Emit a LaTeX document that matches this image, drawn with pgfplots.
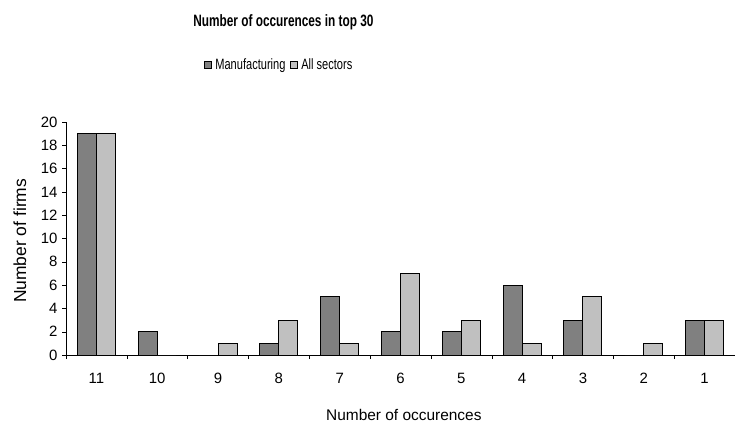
\documentclass[border=0pt]{standalone}
\usepackage{fontspec}
\setmainfont{Liberation Sans}
\newfontfamily\narrowfont[FakeStretch=0.74]{Liberation Sans}
\newfontfamily\titlefont[FakeStretch=0.72]{Liberation Sans Bold}
\usepackage{pgfplots}
\pgfplotsset{compat=1.18}
\definecolor{darkbar}{HTML}{808080}
\definecolor{lightbar}{HTML}{C0C0C0}
\begin{document}
\begin{tikzpicture}[x=1bp,y=1bp]
\path[use as bounding box] (0,0) rectangle (735,427);
\begin{axis}[
  at={(66bp,72bp)}, anchor=south west,
  scale only axis, width=669bp, height=233bp,
  ybar=0pt, bar width=19bp,
  xmin=-0.5, xmax=10.5, ymin=0, ymax=20,
  ytick={0,2,...,20},
  xtick={0,...,10},
  xticklabels={11,10,9,8,7,6,5,4,3,2,1},
  minor xtick={-0.5,0.5,...,10.5},
  major x tick style={draw=none},
  minor x tick style={black, thin},
  y tick style={black, thin},
  tick align=outside,
  minor tick length=4bp, major tick length=4bp,
  axis x line*=bottom, axis y line*=left,
  axis line style={black, thin, -},
  /pgf/number format/assume math mode=true,
  tick label style={font=\fontsize{15}{17}\selectfont},
  xticklabel style={yshift=-11bp},
  yticklabel style={xshift=-1bp},
  ylabel={Number of firms},
  xlabel={Number of occurences},
  xlabel style={font=\fontsize{15.5}{18}\selectfont, at={(axis description cs:0.505,-0.2575)}, anchor=center},
  ylabel style={font=\fontsize{17.5}{20}\selectfont, at={(axis description cs:-0.069,0.49)}, anchor=center},
  title={\titlefont Number of occurences in top 30},
  every axis title shift=0pt,
  title style={at={(0.325,1.43)}, anchor=center, font=\fontsize{16.5}{19}\selectfont},
  legend columns=2,
  legend style={at={(0.319,1.245)}, anchor=center, draw=none, fill=none,
    font=\fontsize{15}{17}\selectfont\narrowfont, column sep=1bp,
    /tikz/every even column/.append style={column sep=3bp}},
  legend image code/.code={\draw[#1, line width=0.9pt] (0bp,-3.5bp) rectangle (7bp,3.5bp);},
]
\addplot[fill=darkbar, draw=black, line width=1pt] coordinates {
(0,19) (1,2) (2,0) (3,1) (4,5) (5,2) (6,2) (7,6) (8,3) (9,0) (10,3)};
\addplot[fill=lightbar, draw=black, line width=1pt] coordinates {
(0,19) (1,0) (2,1) (3,3) (4,1) (5,7) (6,3) (7,1) (8,5) (9,1) (10,3)};
\legend{Manufacturing, All sectors}
\end{axis}
\end{tikzpicture}
\end{document}
